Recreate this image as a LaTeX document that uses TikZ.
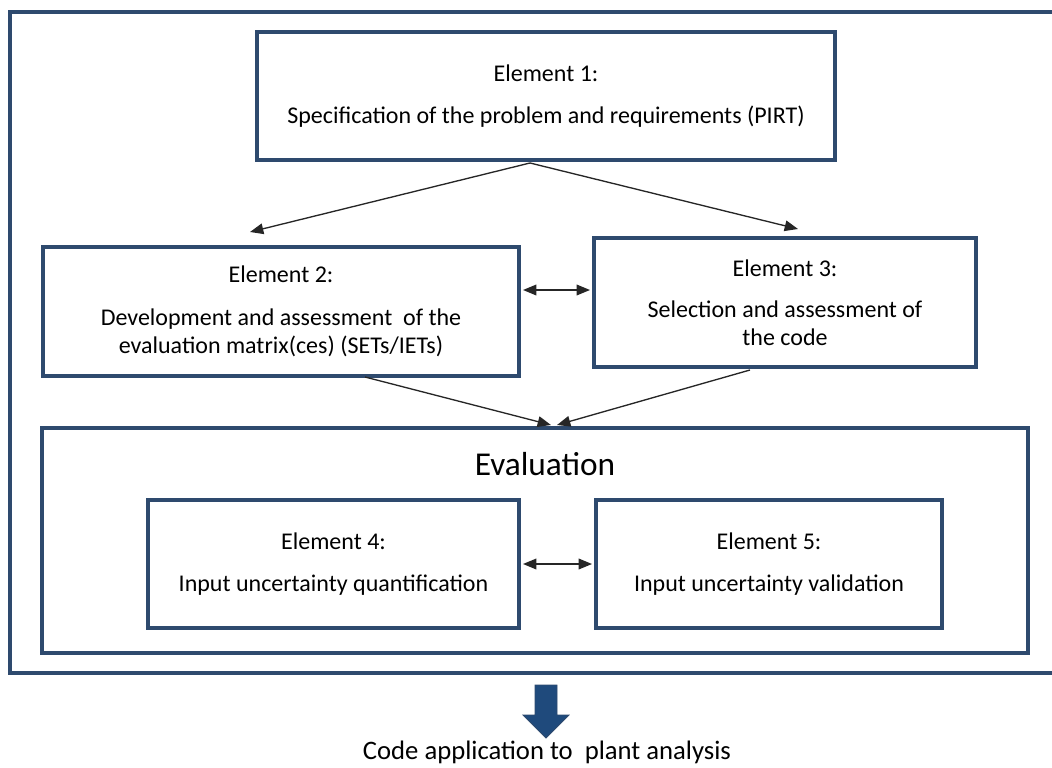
\documentclass[tikz,border=0pt]{standalone}
\usepackage{fontspec}
\setmainfont{Carlito}
\usetikzlibrary{arrows.meta, positioning, calc}

\definecolor{frameblue}{HTML}{2E4A6E}
\definecolor{arrowblue}{HTML}{1F4A7C}

\tikzset{
    elembox/.style={draw=frameblue, line width=3pt, fill=white, rectangle, align=center, font=\fontsize{18}{21}\selectfont},
    flow/.style={-{Triangle[length=10pt,width=8pt]}, line width=1pt, black!85},
    both/.style={{Triangle[length=10pt,width=8pt]}-{Triangle[length=10pt,width=8pt]}, line width=1pt, black!85}
}

\begin{document}
\begin{tikzpicture}[x=0.75pt, y=-0.75pt]
    \useasboundingbox (0,0) rectangle (1052,767);

    % Outer frame (runs off the right edge)
    \draw[frameblue, line width=3pt] (1070,12) -- (10,12) -- (10,673) -- (1070,673);

    % Define the boxes (sizes in pt = pixels * 0.75)
    \node[elembox, minimum width=433.5pt, minimum height=96pt] (elem1) at (546,96)
        {Element 1:\\[10pt] Specification of the problem and requirements (PIRT)};
    \node[elembox, minimum width=357pt, minimum height=96.75pt] (elem2) at (281,311.5)
        {Element 2:\\[11pt] Development and assessment\ \ of the\\ evaluation matrix(ces) (SETs/IETs)};
    \node[elembox, minimum width=286.5pt, minimum height=96.75pt] (elem3) at (785,302.5)
        {Element 3:\\[10pt] Selection and assessment of\\ the code};

    \node[elembox, minimum width=739.5pt, minimum height=168.75pt] (eval) at (535,540.5) {};
    \node[font=\fontsize{25}{30}\selectfont] (evallabel) at (545,464) {Evaluation};

    \node[elembox, minimum width=278.25pt, minimum height=96pt] (elem4) at (333.5,564)
        {Element 4:\\[10pt] Input uncertainty quantification};
    \node[elembox, minimum width=259.5pt, minimum height=96pt] (elem5) at (769,564)
        {Element 5:\\[10pt] Input uncertainty validation};

    % Free ends of the connectors
    \coordinate (fork) at (530,163);
    \coordinate (to2) at (250,232);
    \coordinate (to3) at (798,229);
    \coordinate (from2) at (365,377);
    \coordinate (from3) at (750,370);
    \coordinate (inL) at (551,425);
    \coordinate (inR) at (557,425);
    \coordinate (mid23) at (556,290);

    % Draw the connectors
    \draw[flow] (fork) -- (to2);
    \draw[flow] (fork) -- (to3);
    \draw[both] ([xshift=1.5pt]elem2.east |- mid23) -- ([xshift=-1.5pt]elem3.west |- mid23);
    \draw[flow] (from2) -- (inL);
    \draw[flow] (from3) -- (inR);
    \draw[both] ([xshift=1.5pt]elem4.east) -- ([xshift=-1.5pt]elem5.west);

    % Block arrow down to the application
    \draw[fill=arrowblue, draw=frameblue, line width=0.6pt]
        (535,685) -- (557,685) -- (557,715) -- (569,715) -- (546,738)
        -- (523,715) -- (535,715) -- cycle;
    \node[font=\fontsize{20}{24}\selectfont] (appl) at (547,752) {Code application to\ \ plant analysis};
\end{tikzpicture}
\end{document}
